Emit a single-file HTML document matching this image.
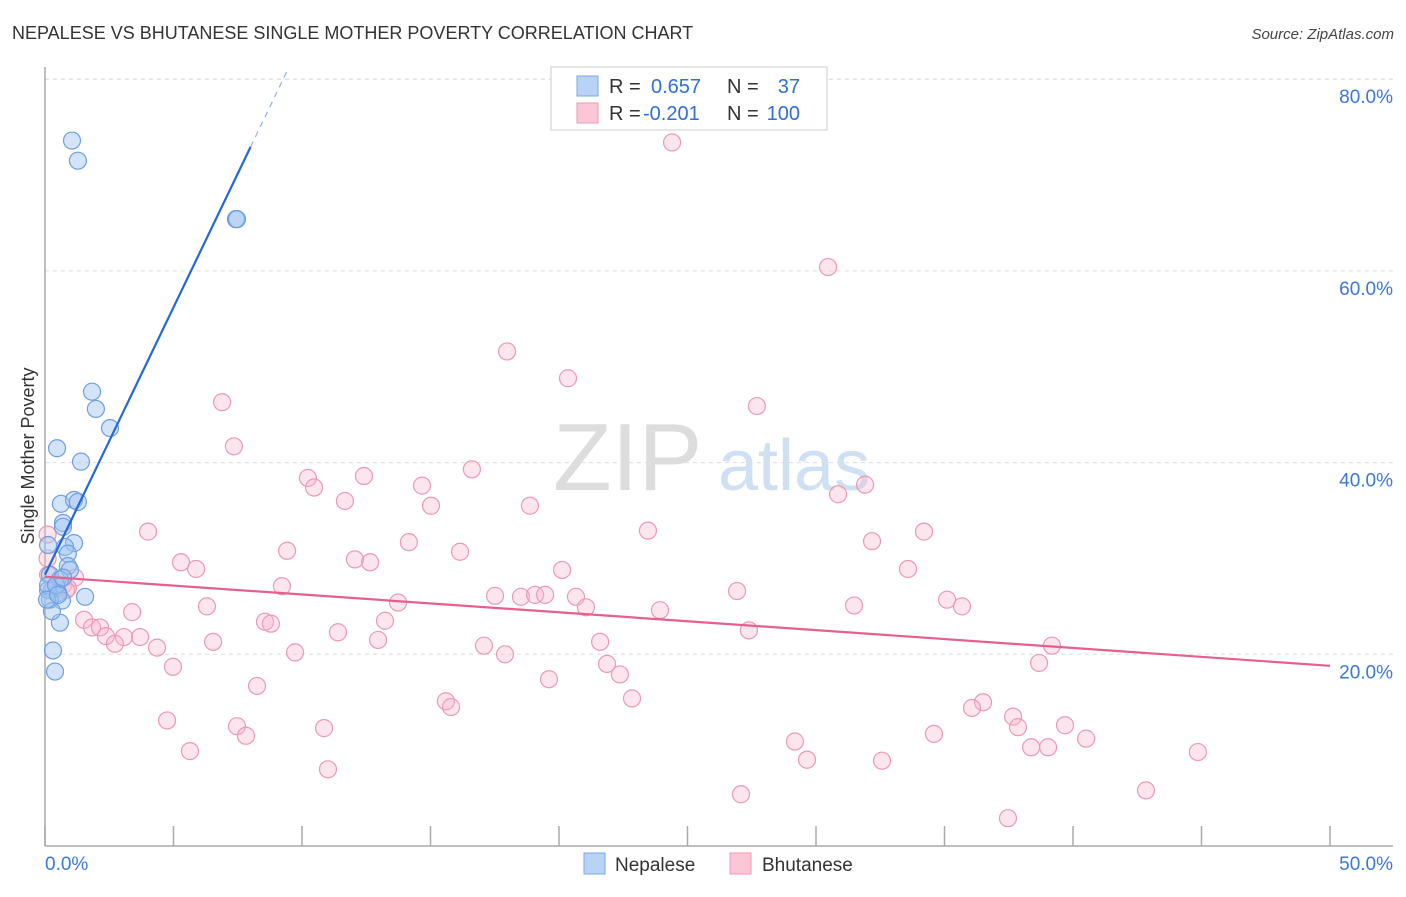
<!DOCTYPE html>
<html><head><meta charset="utf-8">
<style>
body{margin:0;background:#fff;font-family:"Liberation Sans",sans-serif;}
svg text{font-family:"Liberation Sans",sans-serif;}
</style></head>
<body>
<svg id="chart" width="1406" height="892" xmlns="http://www.w3.org/2000/svg">
<text x="12" y="39" font-size="18" fill="#333">NEPALESE VS BHUTANESE SINGLE MOTHER POVERTY CORRELATION CHART</text>
<text x="1394" y="39" font-size="15" fill="#444" font-style="italic" text-anchor="end">Source: ZipAtlas.com</text>
<g>
<text x="553" y="490" font-family="Liberation Serif,serif" font-size="96" fill="#ddd">ZIP</text>
<text x="718" y="490" font-size="72" fill="#cfe0f3">atlas</text>
</g>
<g id="grid"></g>
<g id="axes"></g>
<text transform="translate(34,456) rotate(-90)" font-size="18" fill="#333" text-anchor="middle">Single Mother Poverty</text>
<g id="pink"></g>
<g id="blue"></g>
<g id="trends"></g>
<g>
<rect x="551" y="67" width="276" height="63" fill="#fff" stroke="#ddd" stroke-width="1.5"/>
<rect x="577" y="76" width="21" height="20" fill="#b8d3f5" stroke="#7aa7e6"/>
<rect x="577" y="103" width="21" height="20" fill="#fbc6d6" stroke="#ee9cb6"/>
<text x="609" y="93" font-size="20" fill="#333">R = </text><text x="651" y="93" font-size="20" fill="#2f6fd6">0.657</text>
<text x="727" y="93" font-size="20" fill="#333">N = </text><text x="800" y="93" font-size="20" fill="#2f6fd6" text-anchor="end">37</text>
<text x="609" y="120" font-size="20" fill="#333">R = </text><text x="643" y="120" font-size="20" fill="#2f6fd6">-0.201</text>
<text x="727" y="120" font-size="20" fill="#333">N = </text><text x="800" y="120" font-size="20" fill="#2f6fd6" text-anchor="end">100</text>
</g>
<g>
<rect x="584" y="853" width="21" height="21" fill="#b8d3f5" stroke="#7aa7e6"/>
<text x="615" y="871" font-size="19" fill="#333">Nepalese</text>
<rect x="730" y="853" width="21" height="21" fill="#fbc6d6" stroke="#ee9cb6"/>
<text x="762" y="871" font-size="19" fill="#333">Bhutanese</text>
</g>
</svg>
<script>
const yTicks=[20,40,60,80];
const yTickLabels=["20.0%","40.0%","60.0%","80.0%"];
const xEndLabels=["0.0%","50.0%"];
const blueX=[1.05,1.28,7.43,7.47,1.83,1.98,2.53,0.47,1.40,0.62,1.13,1.28,0.70,0.70,1.13,0.78,0.89,0.12,0.89,0.97,0.19,0.58,0.27,0.51,0.12,0.66,1.56,0.19,0.58,0.27,0.31,0.39,0.12,0.43,0.70,0.08,0.51];
const blueY=[73.6,71.5,65.4,65.4,47.4,45.6,43.6,41.5,40.1,35.7,36.1,35.9,33.7,33.3,31.6,31.2,30.5,31.4,29.2,28.8,28.3,27.8,26.7,26.4,26.7,25.6,26.0,25.7,23.3,24.5,20.4,18.2,27.2,27.2,28.0,25.7,26.2];
const pinkX=[24.40,30.47,17.98,20.35,6.89,27.70,7.35,16.61,10.23,12.41,10.47,14.67,11.67,15.02,18.87,30.86,31.91,4.01,23.46,34.20,32.18,14.16,9.42,16.15,5.29,12.06,12.65,5.88,20.12,33.58,1.17,9.22,26.93,17.51,18.52,19.07,19.46,20.66,35.10,13.74,6.30,31.48,35.68,21.05,23.93,3.39,1.52,1.83,2.14,8.56,8.79,13.23,11.40,2.37,3.07,3.70,12.96,2.72,6.54,21.60,4.36,27.39,17.08,17.90,9.73,39.18,38.68,4.98,21.87,22.37,19.61,8.25,22.84,15.60,15.80,4.75,7.47,10.86,7.82,36.50,36.07,37.67,39.69,37.86,34.59,40.51,29.18,5.64,38.37,39.03,44.86,29.65,32.57,11.01,27.08,42.84,37.47,0.70,0.89,0.82,0.47,0.12,0.10,0.10];
const pinkY=[73.4,60.4,51.6,48.8,46.3,45.9,41.7,39.3,38.4,38.6,37.4,37.6,36.0,35.5,35.5,36.7,37.7,32.8,32.9,32.8,31.8,31.7,30.8,30.7,29.6,29.9,29.6,28.9,28.8,28.9,28.0,27.1,26.6,26.1,26.0,26.2,26.2,26.0,25.7,25.4,25.0,25.1,25.0,24.9,24.6,24.4,23.6,22.8,22.8,23.4,23.2,23.5,22.3,21.9,21.8,21.8,21.5,21.1,21.3,21.3,20.7,22.5,20.9,20.0,20.2,20.9,19.1,18.7,19.0,17.9,17.4,16.7,15.4,15.1,14.5,13.1,12.5,12.3,11.5,15.0,14.4,13.5,12.6,12.4,11.7,11.2,10.9,9.9,10.3,10.3,9.8,9.0,8.9,8.0,5.4,5.8,2.9,27.2,26.9,26.7,27.3,28.3,32.5,30.0];
const blueTrend=[28.3,5.58];   // intercept, slope
const pinkTrend=[28.1,-0.186];

const NS="http://www.w3.org/2000/svg";
const X=v=>45+v*25.7;
const Y=v=>846-v*9.585;
function mk(tag,attrs,parent){const e=document.createElementNS(NS,tag);for(const k in attrs)e.setAttribute(k,attrs[k]);parent.appendChild(e);return e;}
const grid=document.getElementById('grid'),axes=document.getElementById('axes');
mk('line',{x1:45,x2:1393,y1:Y(80),y2:Y(80),stroke:'#ddd','stroke-dasharray':'4,4'},grid);
yTicks.forEach((t,i)=>{
  const l=mk('line',{x1:45,x2:1393,y1:Y(t),y2:Y(t),stroke:'#ddd','stroke-dasharray':'4,4'},grid);
  
  
  const tx=mk('text',{x:1393,y:Y(t)+24,'font-size':19,fill:'#3a78d8','text-anchor':'end'},axes);
  tx.textContent=yTickLabels[i];
  
  
});
mk('line',{x1:45,x2:45,y1:67,y2:846,stroke:'#aaa','stroke-width':1.5},axes);
mk('line',{x1:45,x2:1393,y1:846,y2:846,stroke:'#aaa','stroke-width':1.5},axes);
for(let i=0;i<=10;i++){const t=mk('line',{x1:X(i*5),x2:X(i*5),y1:826,y2:846,stroke:'#aaa','stroke-width':1.5},axes);
  
  }
const xl0=mk('text',{x:45,y:870,'font-size':19,fill:'#3a78d8'},axes);xl0.textContent=xEndLabels[0];


const xl1=mk('text',{x:1393,y:870,'font-size':19,fill:'#3a78d8','text-anchor':'end'},axes);xl1.textContent=xEndLabels[1];



const pg=document.getElementById('pink');
pinkX.forEach((x,i)=>{const c=mk('circle',{cx:X(x),cy:Y(pinkY[i]),r:8.5,fill:'rgba(248,180,203,0.35)',stroke:'#eb9ab3','stroke-width':1.2},pg);
  
  });
const bg=document.getElementById('blue');
blueX.forEach((x,i)=>{const c=mk('circle',{cx:X(x),cy:Y(blueY[i]),r:8.5,fill:'rgba(160,196,240,0.45)',stroke:'#6e9fe0','stroke-width':1.2},bg);
  
  });
const tg=document.getElementById('trends');
const bl=mk('line',{x1:X(0),y1:Y(blueTrend[0]),x2:X(8),y2:Y(blueTrend[0]+8*blueTrend[1]),stroke:'#2468d8','stroke-width':2.2},tg);


const bd=mk('line',{x1:X(8),y1:Y(blueTrend[0]+8*blueTrend[1]),x2:X(9.4),y2:Y(blueTrend[0]+9.4*blueTrend[1]),stroke:'#8fb2e8','stroke-width':1.2,'stroke-dasharray':'6,5'},tg);


const pl=mk('line',{x1:X(0),y1:Y(pinkTrend[0]),x2:X(50),y2:Y(pinkTrend[0]+50*pinkTrend[1]),stroke:'#e4608d','stroke-width':2.2},tg);


</script>
</body></html>
